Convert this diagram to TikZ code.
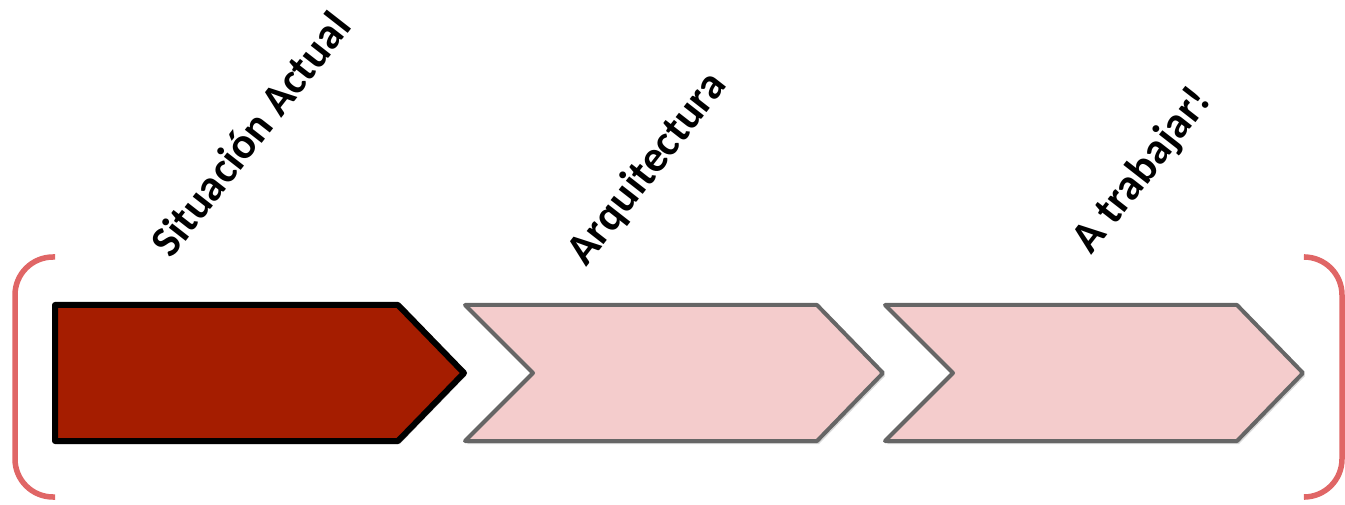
\documentclass[tikz,border=0pt]{standalone}
\usepackage{fontspec}
\setmainfont{Carlito}
\usetikzlibrary{shadows}

\definecolor{rojoOscuro}{HTML}{A51D00}
\definecolor{rosaClaro}{HTML}{F4CCCC}
\definecolor{grisBorde}{HTML}{666666}
\definecolor{rojoLlave}{HTML}{E06666}

\begin{document}
\begin{tikzpicture}[x=1pt,y=-1pt]
        \tikzstyle{sombra}=[drop shadow={opacity=0.3, shadow xshift=2pt, shadow yshift=-3pt}]
        \tikzstyle{etapa}=[sombra, line join=round]
        \tikzstyle{actual}=[etapa, draw=black, line width=6pt, fill=rojoOscuro]
        \tikzstyle{siguiente}=[etapa, draw=grisBorde, line width=4pt, fill=rosaClaro]
        \tikzstyle{llave}=[draw=rojoLlave, line width=5.5pt, rounded corners=38pt]
        \tikzstyle{titulo}=[rotate=52, inner sep=0pt, font=\fontsize{44}{52}\selectfont\bfseries]

        \useasboundingbox (0,0) rectangle (1345,505);

        % Draw the brackets
        \draw[llave] (55,257) -- (15,257) -- (15,497) -- (55,497);
        \draw[llave] (1305,257) -- (1342,257) -- (1342,497) -- (1305,497);

        % Draw the stages
        \draw[actual] (55,305) -- (398,305) -- (464,373) -- (398,441) -- (55,441) -- cycle;
        \foreach \x in {465,885}
            \draw[siguiente] (\x,305) -- ++(352,0) -- ++(66,68) -- ++(-66,68)
                -- ++(-352,0) -- ++(68,-68) -- cycle;

        \node[titulo] (T-1) at (250,134) {Situación Actual};
        \node[titulo] (T-2) at (648,169) {Arquitectura};
        \node[titulo] (T-3) at (1143,171) {A trabajar!};
\end{tikzpicture}
\end{document}
